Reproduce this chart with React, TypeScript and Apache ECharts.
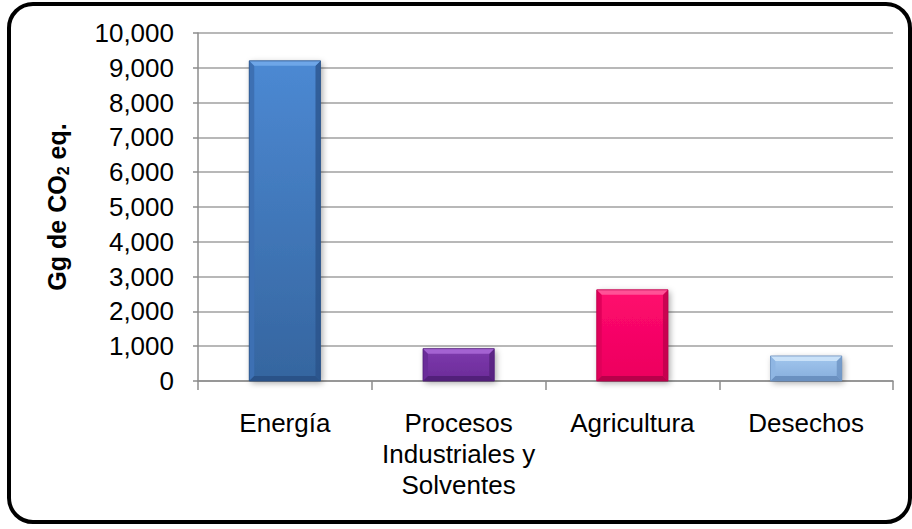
import React, { useEffect, useRef } from "react";
import * as echarts from "echarts";

// Emisiones por sector (Gg de CO2 eq.)
const sectors = ["Energía", "Procesos\nIndustriales y\nSolventes", "Agricultura", "Desechos"];
const emissions = [9200, 930, 2620, 720];
const yMin = 0;
const yMax = 10000;
const yStep = 1000;

// Bevelled bar palette, one entry per sector
const barPalette = [
  { top: "#4C89D3", bottom: "#35659F", light: "#6EA6E8", dark: "#2A5288", side: "#3D70B3" },
  { top: "#7E3AAE", bottom: "#6B2B98", light: "#A462D2", dark: "#52207A", side: "#6A2C99" },
  { top: "#FF0A6E", bottom: "#EC005E", light: "#FF5297", dark: "#B8004A", side: "#E0005A" },
  { top: "#A2C7EE", bottom: "#86ADDC", light: "#C9E1F8", dark: "#6A90C0", side: "#8FB6E3" },
];

const FONT = "'Liberation Sans', Arial, sans-serif";

export default function App() {
  const ref = useRef<HTMLDivElement>(null);

  useEffect(() => {
    if (!ref.current) return;
    const chart = echarts.init(ref.current, null, { renderer: "svg" });

    chart.setOption({
      animation: false,
      backgroundColor: "#FFFFFF",
      graphic: [
        {
          type: "rect",
          shape: { x: 9, y: 4, width: 901, height: 518, r: 24 },
          style: { fill: "none", stroke: "#000000", lineWidth: 4 },
          z: 100,
        },
      ],
      grid: { left: 198, right: 19, top: 33, bottom: 148 },
      xAxis: {
        type: "category",
        data: sectors,
        boundaryGap: true,
        axisLine: { show: true, lineStyle: { color: "#8C8C8C", width: 1.5 } },
        axisTick: { show: true, length: 9, alignWithLabel: false, lineStyle: { color: "#8C8C8C", width: 1.5 } },
        axisLabel: {
          interval: 0,
          margin: 26,
          color: "#000000",
          fontFamily: FONT,
          fontSize: 26,
          lineHeight: 31,
          align: "center",
        },
      },
      yAxis: {
        type: "value",
        min: yMin,
        max: yMax,
        interval: yStep,
        name: "{a|Gg de CO}{s|2}{a| eq.}",
        nameLocation: "middle",
        nameRotate: 90,
        nameGap: 127,
        nameTextStyle: {
          fontFamily: FONT,
          fontWeight: "bold",
          fontSize: 25,
          color: "#000000",
          rich: {
            a: { fontFamily: FONT, fontWeight: "bold", fontSize: 25, color: "#000000", verticalAlign: "middle" },
            s: {
              fontFamily: FONT,
              fontWeight: "bold",
              fontSize: 16,
              color: "#000000",
              verticalAlign: "middle",
              padding: [13, 0, 0, 0],
            },
          },
        },
        axisLine: { show: true, lineStyle: { color: "#8C8C8C", width: 1.5 } },
        axisTick: { show: true, length: 5, lineStyle: { color: "#8C8C8C", width: 1.5 } },
        splitLine: { show: true, lineStyle: { color: "#A0A0A0", width: 1.5 } },
        axisLabel: {
          margin: 24,
          color: "#000000",
          fontFamily: FONT,
          fontSize: 26,
          formatter: (v: number) => v.toLocaleString("en-US"),
        },
      },
      series: [
        {
          type: "custom",
          encode: { x: 0, y: 1 },
          data: emissions.map((v, i) => [i, v]),
          renderItem: (_params: any, api: any) => {
            const i = api.value(0) as number;
            const v = api.value(1) as number;
            const top = api.coord([i, v]);
            const base = api.coord([i, 0]);
            const bw = (api.size([1, 0]) as number[])[0] * 0.41;
            const x0 = top[0] - bw / 2;
            const x1 = top[0] + bw / 2;
            const yt = top[1];
            const yb = base[1];
            const h = yb - yt;
            const b = Math.min(5, h / 4);
            const c = barPalette[i];
            return {
              type: "group",
              children: [
                {
                  type: "rect",
                  shape: { x: x0, y: yt, width: bw, height: h },
                  style: {
                    fill: new echarts.graphic.LinearGradient(0, 0, 0, 1, [
                      { offset: 0, color: c.top },
                      { offset: 1, color: c.bottom },
                    ]),
                    shadowBlur: 6,
                    shadowColor: "rgba(0,0,0,0.35)",
                    shadowOffsetX: 2,
                    shadowOffsetY: 2,
                  },
                },
                {
                  type: "polygon",
                  shape: { points: [[x0, yt], [x0 + b, yt + b], [x0 + b, yb - b], [x0, yb]] },
                  style: { fill: c.side },
                },
                {
                  type: "polygon",
                  shape: { points: [[x1, yt], [x1, yb], [x1 - b, yb - b], [x1 - b, yt + b]] },
                  style: { fill: c.dark, opacity: 0.75 },
                },
                {
                  type: "polygon",
                  shape: { points: [[x0, yb], [x0 + b, yb - b], [x1 - b, yb - b], [x1, yb]] },
                  style: { fill: c.dark },
                },
                {
                  type: "polygon",
                  shape: { points: [[x0, yt], [x1, yt], [x1 - b, yt + b], [x0 + b, yt + b]] },
                  style: { fill: c.light },
                },
                {
                  type: "rect",
                  shape: { x: x0, y: yt, width: bw, height: h },
                  style: { fill: "none", stroke: c.dark, lineWidth: 0.8 },
                },
              ],
            };
          },
        },
      ],
    });

    return () => chart.dispose();
  }, []);

  return (
    <div
      ref={ref}
      style={{ position: "fixed", left: 0, top: 0, width: 912, height: 529, background: "#FFFFFF" }}
    />
  );
}
